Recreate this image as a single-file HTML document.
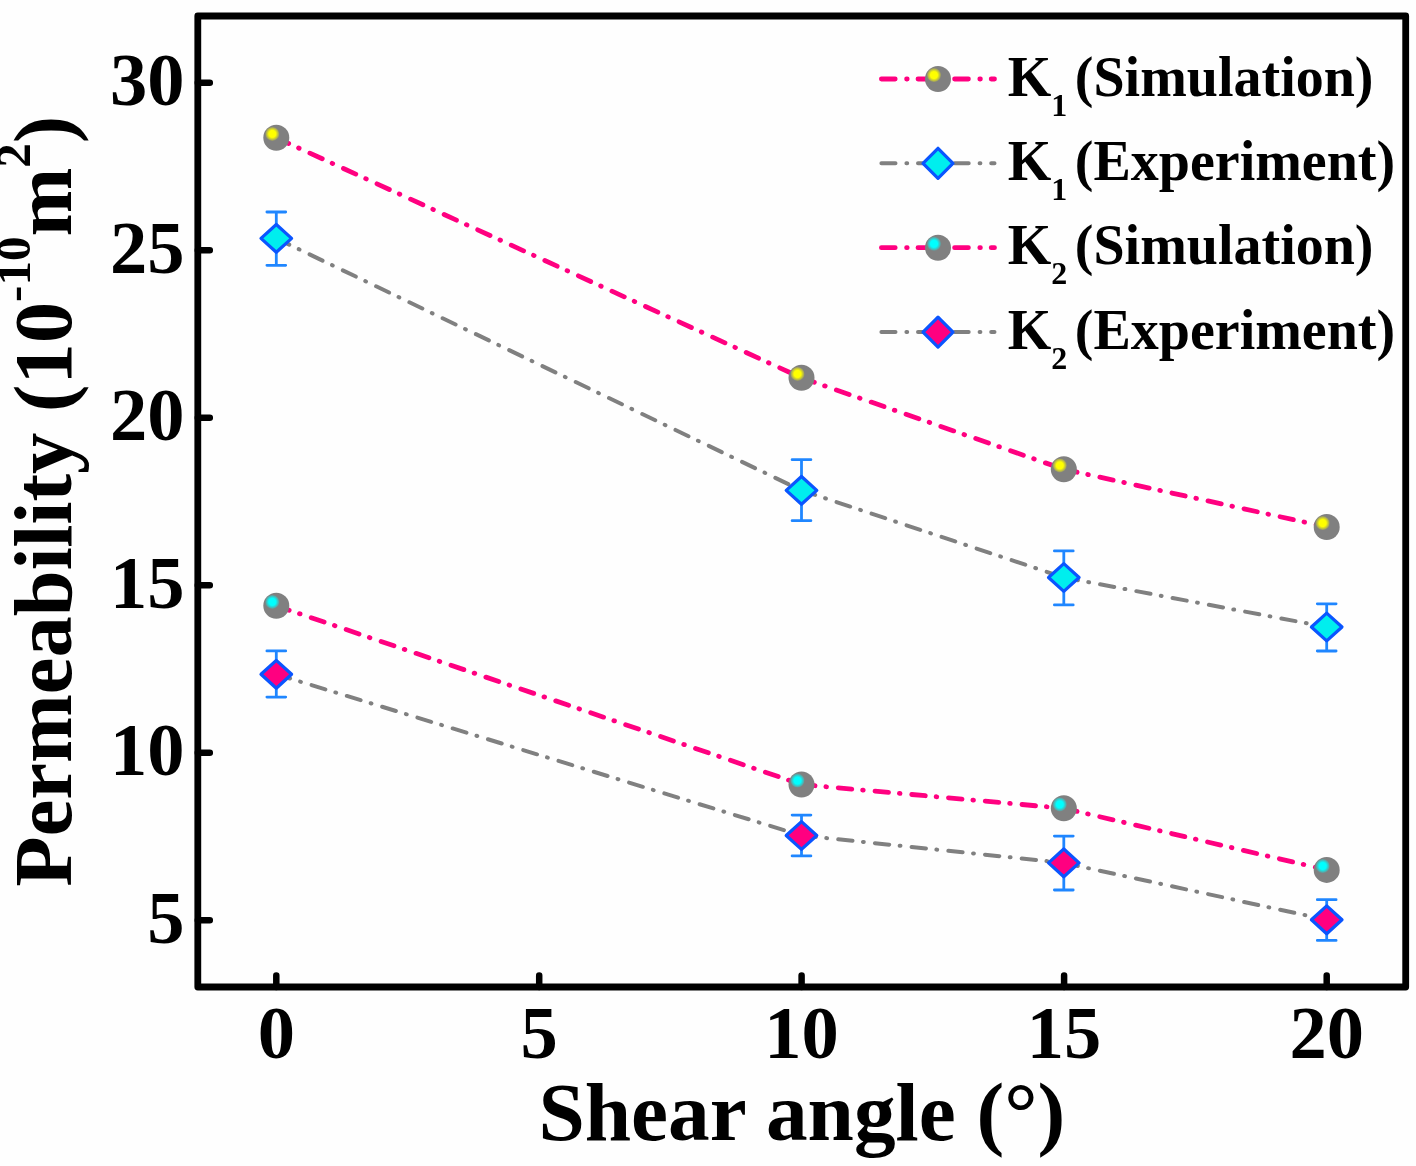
<!DOCTYPE html>
<html><head><meta charset="utf-8"><style>
html,body{margin:0;padding:0;background:#fefefe;}
svg{display:block;filter:blur(0.7px);}
text{font-family:"Liberation Serif",serif;font-weight:bold;fill:#000;}
.tl{font-size:74.5px;}
.at{font-size:83.3px;}
.yt{font-size:82.6px;}
.sup{font-size:49px;}
.leg{font-size:56px;}
.sub{font-size:32px;}
</style></head><body>
<svg width="1416" height="1166" viewBox="0 0 1416 1166">
<defs>
<radialGradient id="gy"><stop offset="0.5" stop-color="#ffff00"/><stop offset="1" stop-color="#ffff00" stop-opacity="0.15"/></radialGradient>
<radialGradient id="gc"><stop offset="0.5" stop-color="#00ffff"/><stop offset="1" stop-color="#00ffff" stop-opacity="0.15"/></radialGradient>
</defs>
<rect width="1416" height="1166" fill="#fefefe"/>
<rect x="197.8" y="16.0" width="1207.9" height="971.0" fill="none" stroke="#000" stroke-width="6.8" stroke-linejoin="round"/>
<path d="M197.8,82.7 H209.8 M197.8,250.2 H209.8 M197.8,417.8 H209.8 M197.8,585.3 H209.8 M197.8,752.8 H209.8 M197.8,920.3 H209.8 M276.3,987.0 V975.5 M539.2,987.0 V975.5 M801.6,987.0 V975.5 M1064.1,987.0 V975.5 M1326.7,987.0 V975.5" stroke="#000" stroke-width="6.5" fill="none" stroke-linecap="round"/>
<line x1="276.3" y1="238.4" x2="801.5" y2="490.4" stroke="#808080" stroke-width="4.0" stroke-dasharray="14.4 10.5 0.8 11.2" stroke-linecap="round"/><line x1="801.5" y1="490.4" x2="1063.8" y2="577.5" stroke="#808080" stroke-width="4.0" stroke-dasharray="14.4 10.5 0.8 11.2" stroke-linecap="round"/><line x1="1063.8" y1="577.5" x2="1326.7" y2="627.0" stroke="#808080" stroke-width="4.0" stroke-dasharray="14.4 10.5 0.8 11.2" stroke-linecap="round"/>
<line x1="276.3" y1="674.3" x2="801.5" y2="835.5" stroke="#808080" stroke-width="4.0" stroke-dasharray="14.4 10.5 0.8 11.2" stroke-linecap="round"/><line x1="801.5" y1="835.5" x2="1063.8" y2="862.9" stroke="#808080" stroke-width="4.0" stroke-dasharray="14.4 10.5 0.8 11.2" stroke-linecap="round"/><line x1="1063.8" y1="862.9" x2="1326.7" y2="919.8" stroke="#808080" stroke-width="4.0" stroke-dasharray="14.4 10.5 0.8 11.2" stroke-linecap="round"/>
<line x1="276.3" y1="137.8" x2="801.5" y2="377.8" stroke="#ff0080" stroke-width="4.8" stroke-dasharray="13.6 10.9 0.6 11.8" stroke-linecap="round"/><line x1="801.5" y1="377.8" x2="1063.8" y2="469.3" stroke="#ff0080" stroke-width="4.8" stroke-dasharray="13.6 10.9 0.6 11.8" stroke-linecap="round"/><line x1="1063.8" y1="469.3" x2="1326.7" y2="527.0" stroke="#ff0080" stroke-width="4.8" stroke-dasharray="13.6 10.9 0.6 11.8" stroke-linecap="round"/>
<line x1="276.3" y1="605.8" x2="801.5" y2="784.5" stroke="#ff0080" stroke-width="4.8" stroke-dasharray="13.6 10.9 0.6 11.8" stroke-linecap="round"/><line x1="801.5" y1="784.5" x2="1063.8" y2="808.3" stroke="#ff0080" stroke-width="4.8" stroke-dasharray="13.6 10.9 0.6 11.8" stroke-linecap="round"/><line x1="1063.8" y1="808.3" x2="1326.7" y2="869.9" stroke="#ff0080" stroke-width="4.8" stroke-dasharray="13.6 10.9 0.6 11.8" stroke-linecap="round"/>
<path d="M276.3,212.0 V265.3" stroke="#1f86ff" stroke-width="2.8" fill="none"/><path d="M266.9,212.0 H285.7 M266.9,265.3 H285.7" stroke="#1f86ff" stroke-width="2.8" fill="none" stroke-linecap="round"/>
<path d="M801.5,459.7 V520.7" stroke="#1f86ff" stroke-width="2.8" fill="none"/><path d="M792.1,459.7 H810.9 M792.1,520.7 H810.9" stroke="#1f86ff" stroke-width="2.8" fill="none" stroke-linecap="round"/>
<path d="M1063.8,550.9 V604.9" stroke="#1f86ff" stroke-width="2.8" fill="none"/><path d="M1054.4,550.9 H1073.2 M1054.4,604.9 H1073.2" stroke="#1f86ff" stroke-width="2.8" fill="none" stroke-linecap="round"/>
<path d="M1326.7,603.8 V651.0" stroke="#1f86ff" stroke-width="2.8" fill="none"/><path d="M1317.3,603.8 H1336.1 M1317.3,651.0 H1336.1" stroke="#1f86ff" stroke-width="2.8" fill="none" stroke-linecap="round"/>
<path d="M276.3,650.9 V697.1" stroke="#1f86ff" stroke-width="2.8" fill="none"/><path d="M266.9,650.9 H285.7 M266.9,697.1 H285.7" stroke="#1f86ff" stroke-width="2.8" fill="none" stroke-linecap="round"/>
<path d="M801.5,815.1 V855.9" stroke="#1f86ff" stroke-width="2.8" fill="none"/><path d="M792.1,815.1 H810.9 M792.1,855.9 H810.9" stroke="#1f86ff" stroke-width="2.8" fill="none" stroke-linecap="round"/>
<path d="M1063.8,836.1 V890.0" stroke="#1f86ff" stroke-width="2.8" fill="none"/><path d="M1054.4,836.1 H1073.2 M1054.4,890.0 H1073.2" stroke="#1f86ff" stroke-width="2.8" fill="none" stroke-linecap="round"/>
<path d="M1326.7,899.7 V940.4" stroke="#1f86ff" stroke-width="2.8" fill="none"/><path d="M1317.3,899.7 H1336.1 M1317.3,940.4 H1336.1" stroke="#1f86ff" stroke-width="2.8" fill="none" stroke-linecap="round"/>
<circle cx="276.3" cy="137.8" r="13" fill="#808080"/><circle cx="272.3" cy="133.9" r="7" fill="url(#gy)"/>
<circle cx="801.5" cy="377.8" r="13" fill="#808080"/><circle cx="797.5" cy="373.9" r="7" fill="url(#gy)"/>
<circle cx="1063.8" cy="469.3" r="13" fill="#808080"/><circle cx="1059.8" cy="465.4" r="7" fill="url(#gy)"/>
<circle cx="1326.7" cy="527.0" r="13" fill="#808080"/><circle cx="1322.7" cy="523.1" r="7" fill="url(#gy)"/>
<circle cx="276.3" cy="605.8" r="13" fill="#808080"/><circle cx="272.3" cy="601.9" r="7" fill="url(#gc)"/>
<circle cx="801.5" cy="784.5" r="13" fill="#808080"/><circle cx="797.5" cy="780.6" r="7" fill="url(#gc)"/>
<circle cx="1063.8" cy="808.3" r="13" fill="#808080"/><circle cx="1059.8" cy="804.4" r="7" fill="url(#gc)"/>
<circle cx="1326.7" cy="869.9" r="13" fill="#808080"/><circle cx="1322.7" cy="866.0" r="7" fill="url(#gc)"/>
<path d="M261.0,238.4 L276.3,224.5 L291.6,238.4 L276.3,252.3 Z" fill="#00eeee" stroke="#0a55ff" stroke-width="3.2" stroke-linejoin="round"/>
<path d="M786.2,490.4 L801.5,476.5 L816.8,490.4 L801.5,504.3 Z" fill="#00eeee" stroke="#0a55ff" stroke-width="3.2" stroke-linejoin="round"/>
<path d="M1048.5,577.5 L1063.8,563.6 L1079.1,577.5 L1063.8,591.4 Z" fill="#00eeee" stroke="#0a55ff" stroke-width="3.2" stroke-linejoin="round"/>
<path d="M1311.4,627.0 L1326.7,613.1 L1342.0,627.0 L1326.7,640.9 Z" fill="#00eeee" stroke="#0a55ff" stroke-width="3.2" stroke-linejoin="round"/>
<path d="M261.0,674.3 L276.3,660.4 L291.6,674.3 L276.3,688.2 Z" fill="#ff0080" stroke="#0a55ff" stroke-width="3.2" stroke-linejoin="round"/>
<path d="M786.2,835.5 L801.5,821.6 L816.8,835.5 L801.5,849.4 Z" fill="#ff0080" stroke="#0a55ff" stroke-width="3.2" stroke-linejoin="round"/>
<path d="M1048.5,862.9 L1063.8,849.0 L1079.1,862.9 L1063.8,876.8 Z" fill="#ff0080" stroke="#0a55ff" stroke-width="3.2" stroke-linejoin="round"/>
<path d="M1311.4,919.8 L1326.7,905.9 L1342.0,919.8 L1326.7,933.7 Z" fill="#ff0080" stroke="#0a55ff" stroke-width="3.2" stroke-linejoin="round"/>
<line x1="881.4" y1="79.0" x2="994.5" y2="79.0" stroke="#ff0080" stroke-width="4.8" stroke-dasharray="13.8 11.4 0.6 10.8" stroke-linecap="round"/>
<circle cx="938.0" cy="79.0" r="13" fill="#808080"/><circle cx="934.0" cy="75.1" r="7" fill="url(#gy)"/>
<line x1="881.4" y1="163.3" x2="994.5" y2="163.3" stroke="#808080" stroke-width="4.0" stroke-dasharray="14.1 10.9 0.8 10.8" stroke-linecap="round"/>
<path d="M923.0,163.3 L938.0,148.3 L953.0,163.3 L938.0,178.3 Z" fill="#00eeee" stroke="#0a55ff" stroke-width="3.2" stroke-linejoin="round"/>
<line x1="881.4" y1="247.7" x2="994.5" y2="247.7" stroke="#ff0080" stroke-width="4.8" stroke-dasharray="13.8 11.4 0.6 10.8" stroke-linecap="round"/>
<circle cx="938.0" cy="247.7" r="13" fill="#808080"/><circle cx="934.0" cy="243.8" r="7" fill="url(#gc)"/>
<line x1="881.4" y1="332.1" x2="994.5" y2="332.1" stroke="#808080" stroke-width="4.0" stroke-dasharray="14.1 10.9 0.8 10.8" stroke-linecap="round"/>
<path d="M923.0,332.1 L938.0,317.1 L953.0,332.1 L938.0,347.1 Z" fill="#ff0080" stroke="#0a55ff" stroke-width="3.2" stroke-linejoin="round"/>
<text class="leg" x="1007.8" y="95.5">K</text>
<text class="sub" x="1051.2" y="115.5">1</text>
<text class="leg" x="1074.8" y="95.5">(Simulation)</text>
<text class="leg" x="1007.8" y="179.8">K</text>
<text class="sub" x="1051.2" y="199.8">1</text>
<text class="leg" x="1074.8" y="179.8">(Experiment)</text>
<text class="leg" x="1007.8" y="264.2">K</text>
<text class="sub" x="1051.2" y="284.2">2</text>
<text class="leg" x="1074.8" y="264.2">(Simulation)</text>
<text class="leg" x="1007.8" y="348.6">K</text>
<text class="sub" x="1051.2" y="368.6">2</text>
<text class="leg" x="1074.8" y="348.6">(Experiment)</text>
<text class="tl" x="184.5" y="105.3" text-anchor="end">30</text>
<text class="tl" x="184.5" y="272.8" text-anchor="end">25</text>
<text class="tl" x="184.5" y="440.4" text-anchor="end">20</text>
<text class="tl" x="184.5" y="607.9" text-anchor="end">15</text>
<text class="tl" x="184.5" y="775.4" text-anchor="end">10</text>
<text class="tl" x="184.5" y="942.9" text-anchor="end">5</text>
<text class="tl" x="276.3" y="1058" text-anchor="middle">0</text>
<text class="tl" x="539.2" y="1058" text-anchor="middle">5</text>
<text class="tl" x="801.6" y="1058" text-anchor="middle">10</text>
<text class="tl" x="1064.1" y="1058" text-anchor="middle">15</text>
<text class="tl" x="1326.7" y="1058" text-anchor="middle">20</text>
<text class="at" x="538.4" y="1140">Shear angle (°)</text>
<text class="yt" transform="translate(70.5,886.8) rotate(-90)" x="0" y="0">Permeability (10<tspan class="sup" dy="-41">-10</tspan><tspan dy="41">m</tspan><tspan class="sup" dy="-41">2</tspan><tspan dy="41">)</tspan></text>
</svg>
</body></html>
